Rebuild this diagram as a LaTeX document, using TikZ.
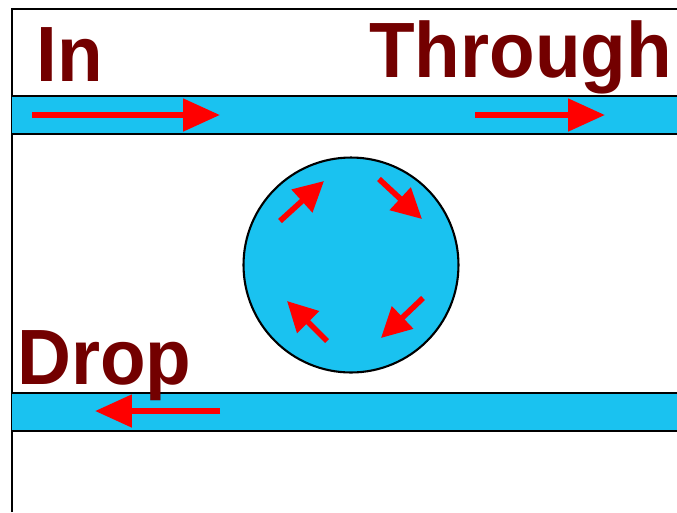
\documentclass[tikz,border=0pt]{standalone}
\usepackage{fontspec}
\setmainfont{Liberation Sans}
\usetikzlibrary{arrows.meta}
\definecolor{guideblue}{RGB}{26,194,240}
\definecolor{tagred}{RGB}{115,0,0}
\tikzset{
  guide/.style={fill=guideblue},
  edge/.style={line width=1.2pt},
  flow/.style={red, line width=3.4pt, -{Triangle[length=21pt,width=18pt]}},
  ringflow/.style={red, line width=3.2pt, -{Triangle[length=17pt,width=17pt]}},
  tag/.style={text=tagred, font=\fontsize{42.5}{43}\selectfont\bfseries, anchor=base west, inner sep=0pt, yscale=1.05},
}

\begin{document}
\begin{tikzpicture}[x=0.02cm, y=-0.02cm]
			\useasboundingbox (0,0) rectangle (677,512);
			% Rahmen
			\draw[edge] (12,512) -- (12,9) -- (677,9);
			
			% Bus-Wellenleiter oben
			\fill[guide] (12,96) rectangle (677,134);
			\draw[edge] (12,96) -- (677,96) (12,134) -- (677,134);
			\coordinate (in1) at (32,115);
			\coordinate (in2) at (220,115);
			\coordinate (th1) at (475,115);
			\coordinate (th2) at (605,115);
			\draw[flow] (in1) -- (in2);
			\draw[flow] (th1) -- (th2);
			
			% Drop-Wellenleiter unten
			\fill[guide] (12,393) rectangle (677,431);
			\draw[edge] (12,393) -- (677,393) (12,431) -- (677,431);
			\coordinate (dr1) at (220,411);
			\coordinate (dr2) at (95,411);
			\draw[flow] (dr1) -- (dr2);
			
			% Ring
			\node[circle, draw, edge, guide, minimum size=4.3cm, inner sep=0pt] (ring) at (351,265) {};
			\draw[ringflow] (280,221) -- (324,181);
			\draw[ringflow] (379,179) -- (422,219);
			\draw[ringflow] (423,298) -- (381,338);
			\draw[ringflow] (327,341) -- (287,301);
			
			% Beschriftung
			\node[tag] (in) at (36,81) {In};
			\node[tag] (through) at (369,77) {Through};
			\node[tag] (drop) at (17,384) {Drop};
		\end{tikzpicture}
\end{document}
